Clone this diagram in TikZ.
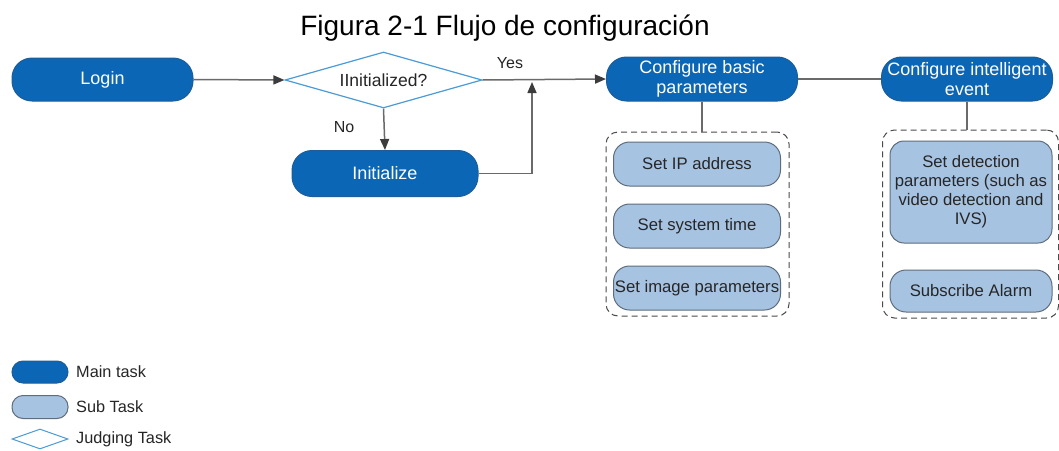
\documentclass[tikz,border=0pt]{standalone}
\usepackage{fontspec}
\setmainfont{Liberation Sans}
\usetikzlibrary{shapes.geometric,arrows.meta}
\definecolor{mainblue}{HTML}{0B67B6}
\definecolor{mainedge}{HTML}{1D5C98}
\definecolor{subfill}{HTML}{A7C3E2}
\definecolor{subedge}{HTML}{5E6C7C}
\definecolor{judgeedge}{HTML}{4A9BD6}
\definecolor{linegray}{HTML}{6A6A6A}
\definecolor{tipgray}{HTML}{3C3C3C}
\definecolor{dashgray}{HTML}{4A4A4A}
\tikzset{
  maintask/.style={draw=mainedge, line width=1pt, fill=mainblue, text=white,
    rounded corners=20pt, inner sep=1pt, align=center,
    font=\fontsize{18}{20}\selectfont},
  subtask/.style={draw=subedge, line width=1pt, fill=subfill, text=black!85,
    rounded corners=16pt, inner sep=1pt, align=center,
    font=\fontsize{16.7}{19}\selectfont, minimum width=167pt},
  judgetask/.style={diamond, draw=judgeedge, line width=1.2pt, fill=white,
    inner sep=0pt, aspect=3.5, font=\fontsize{17.5}{19}\selectfont, text=black!85},
  groupbox/.style={draw=dashgray, dashed, dash pattern=on 6pt off 4pt,
    line width=1pt, rounded corners=12pt},
  conn/.style={draw=linegray, line width=1.5pt},
  arr/.style={conn, -{Triangle[length=11pt,width=9pt,color=tipgray]}},
  lbl/.style={font=\fontsize{16}{18}\selectfont, text=black!85},
  legtext/.style={font=\fontsize{16.3}{18}\selectfont, text=black!85, anchor=west, inner sep=0pt}
}
\begin{document}
\begin{tikzpicture}[x=1pt,y=-1pt]
\useasboundingbox (0,0) rectangle (1059,450);
\fill[white] (0,0) rectangle (1059,450);

\node[font=\fontsize{28}{32}\selectfont, anchor=base, inner sep=0pt] (title) at (505,35) {Figura 2-1 Flujo de configuración};

\node[maintask, minimum width=181pt, minimum height=43pt] (login) at (102.5,79.5) {Login};
\node[judgetask, minimum width=197pt, minimum height=56pt] (judge) at (383.5,80) {IInitialized?};
\node[maintask, minimum width=186pt, minimum height=46pt] (init) at (385,173.5) {Initialize};
\node[maintask, minimum width=191pt, minimum height=44pt] (cbasic) at (702,79) {Configure basic\\parameters};
\node[maintask, minimum width=171pt, minimum height=44pt] (cint) at (967,79) {Configure intelligent\\event};

\node[groupbox, minimum width=183pt, minimum height=184pt] (g1) at (697.5,224) {};
\node[subtask, minimum height=44pt] (ip) at (697,164) {Set IP address};
\node[subtask, minimum height=44pt] (time) at (697,226) {Set system time};
\node[subtask, minimum height=44pt] (img) at (697,288) {Set image parameters};

\node[groupbox, minimum width=176pt, minimum height=188pt] (g2) at (970.5,224) {};
\node[subtask, minimum width=162pt, minimum height=102pt, rounded corners=14pt] (det) at (971,192) {Set detection\\parameters (such as\\video detection and\\IVS)};
\node[subtask, minimum width=162pt, minimum height=42pt] (alarm) at (971,291) {Subscribe Alarm};

\coordinate (jt) at (532,82);

\draw[arr] (login.east) -- (judge.west);
\draw[arr] (judge.east) -- (cbasic.west);
\draw[arr] (judge.south) -- (init.north);
\draw[arr] (init.east) -| (jt);
\draw[conn] (cbasic.east) -- (cint.west);
\draw[conn] (cbasic.south) -- (cbasic.south |- g1.north);
\draw[conn] (cint.south) -- (cint.south |- g2.north);

\node[lbl] (yes) at (510,63) {Yes};
\node[lbl] (no) at (344,127) {No};

\node[maintask, minimum width=56pt, minimum height=22pt, rounded corners=11pt, inner sep=0pt] (lm) at (40,372) {};
\node[subtask, minimum width=56pt, minimum height=23pt, rounded corners=11pt, inner sep=0pt] (ls) at (40,407) {};
\node[judgetask, minimum width=56pt, minimum height=20pt, line width=1pt] (lj) at (40,439) {};
\node[legtext] (lmt) at (76,372) {Main task};
\node[legtext] (lst) at (76,407) {Sub Task};
\node[legtext] (ljt) at (76,439) {Judging Task};
\end{tikzpicture}
\end{document}
